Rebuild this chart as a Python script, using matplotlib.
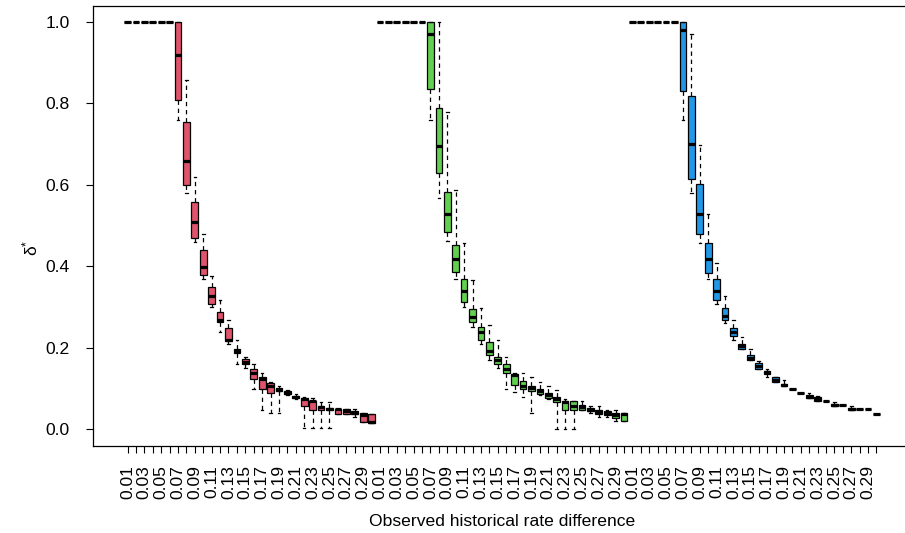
import matplotlib
matplotlib.use("Agg")
import matplotlib.pyplot as plt
import numpy as np

plt.rcParams['font.family'] = ['Liberation Sans', 'DejaVu Sans']

# observed historical rate difference, 0.01 .. 0.30, repeated for three groups
rate_diff = [f"{v / 100:.2f}" for v in range(1, 31)]
colors = ["#DF536B", "#61D04F", "#2297E6"]

# group 1 (red): lower whisker, q1, median, q3, upper whisker
red_lo = [1.0] * 6 + [.760, .579, .460, .369, .301, .238, .210, .160, .151, .099, .048, .039, .039, .084,
                      .075, .002, .002, .002, .002, .038, .038, .029, .018, .015]
red_q1 = [1.0] * 6 + [.809, .600, .469, .379, .308, .264, .216, .187, .159, .124, .099, .090, .093, .086,
                      .077, .058, .048, .046, .048, .038, .038, .038, .018, .015]
red_med = [1.0] * 6 + [.919, .659, .509, .399, .328, .267, .219, .191, .164, .139, .124, .105, .097, .089,
                       .080, .073, .069, .054, .050, .049, .045, .041, .036, .017]
red_q3 = [1.0] * 6 + [1.0, .754, .558, .439, .349, .288, .249, .198, .173, .148, .128, .114, .101, .093,
                      .082, .077, .070, .058, .053, .050, .049, .045, .039, .038]
red_hi = [1.0] * 6 + [1.0, .858, .619, .478, .377, .318, .267, .218, .178, .159, .137, .117, .107, .097,
                      .087, .080, .077, .068, .068, .050, .049, .049, .039, .038]

# group 2 (green)
green_lo = [1.0] * 6 + [.760, .568, .461, .369, .300, .250, .210, .169, .150, .099, .091, .080, .039, .083,
                        .075, .001, .001, .001, .046, .039, .029, .029, .021, .020]
green_q1 = [1.0] * 6 + [.834, .628, .484, .385, .313, .263, .218, .183, .159, .138, .109, .099, .095, .087,
                        .076, .068, .048, .048, .048, .044, .038, .035, .028, .020]
green_med = [1.0] * 6 + [.969, .694, .529, .418, .340, .275, .238, .193, .171, .148, .132, .105, .102, .093,
                         .083, .075, .068, .058, .054, .048, .043, .040, .035, .038]
green_q3 = [1.0] * 6 + [1.0, .789, .583, .453, .368, .294, .250, .214, .178, .159, .136, .118, .107, .099,
                        .089, .080, .070, .069, .060, .053, .048, .044, .040, .040]
green_hi = [1.0] * 6 + [1.0, 1.0, .778, .588, .458, .367, .297, .257, .218, .178, .137, .137, .128, .117,
                        .106, .097, .075, .070, .069, .058, .058, .048, .048, .040]

# group 3 (blue)
blue_lo = [1.0] * 6 + [.759, .579, .458, .368, .308, .260, .219, .196, .169, .148, .129, .116, .106, .099,
                       .088, .076, .069, .069, .056, .059, .047, .049, .049, .038]
blue_q1 = [1.0] * 6 + [.829, .613, .478, .384, .318, .269, .230, .196, .169, .149, .136, .116, .106, .099,
                       .088, .076, .069, .069, .056, .059, .047, .049, .049, .038]
blue_med = [1.0] * 6 + [.979, .699, .529, .419, .339, .279, .238, .204, .174, .155, .140, .122, .109, .099,
                        .088, .079, .075, .069, .059, .059, .049, .049, .049, .038]
blue_q3 = [1.0] * 6 + [1.0, .818, .603, .458, .368, .298, .248, .210, .181, .162, .144, .128, .111, .099,
                       .088, .083, .080, .069, .062, .059, .053, .049, .049, .038]
blue_hi = [1.0] * 6 + [1.0, .969, .698, .529, .407, .328, .267, .226, .197, .167, .148, .129, .120, .099,
                       .088, .088, .081, .069, .068, .059, .058, .049, .049, .038]

groups = [
    (red_lo, red_q1, red_med, red_q3, red_hi),
    (green_lo, green_q1, green_med, green_q3, green_hi),
    (blue_lo, blue_q1, blue_med, blue_q3, blue_hi),
]

stats = []
box_colors = []
for (lo, q1, med, q3, hi), col in zip(groups, colors):
    for i in range(len(rate_diff)):
        stats.append(dict(whislo=lo[i], q1=q1[i], med=med[i], q3=q3[i], whishi=hi[i], fliers=[]))
        box_colors.append(col)

positions = np.arange(1, len(stats) + 1)

fig = plt.figure(figsize=(9.05, 5.33), dpi=100)
ax = fig.add_axes([93 / 905, 87.5 / 533, 818 / 905, 440 / 533])

bp = ax.bxp(stats, positions=positions, widths=0.8, patch_artist=True, showfliers=False,
            boxprops=dict(edgecolor='black', linewidth=0.9),
            medianprops=dict(color='black', linewidth=2.3, solid_capstyle='butt'),
            whiskerprops=dict(color='black', linewidth=0.9, linestyle=(0, (3.5, 3))),
            capprops=dict(color='black', linewidth=0.9),
            capwidths=0.3)
for patch, col in zip(bp['boxes'], box_colors):
    patch.set_facecolor(col)

ax.set_xlim(-3.1, 94.1)
ax.set_ylim(-0.04, 1.04)

fs = 12.6
labels = [rate_diff[i % 30] if i % 2 == 0 else "" for i in range(len(stats))]
ax.set_xticks(positions)
ax.set_xticklabels(labels, rotation=90, fontsize=fs)
ax.set_yticks([0.0, 0.2, 0.4, 0.6, 0.8, 1.0])
ax.set_yticklabels(["0.0", "0.2", "0.4", "0.6", "0.8", "1.0"], fontsize=fs)
ax.tick_params(axis='x', length=5, width=0.8, pad=9)
ax.tick_params(axis='y', length=5, width=0.8, pad=12)

for s in ax.spines.values():
    s.set_linewidth(0.9)

ax.set_xlabel("Observed historical rate difference", fontsize=fs, va='center')
ax.xaxis.set_label_coords(0.5, (445.5 - 521) / 440)
ax.set_ylabel(r"$\mathregular{\delta^{*}}$", fontsize=fs, va='center')
ax.yaxis.set_label_coords((30 - 93) / 818, 0.45)

plt.savefig("out.png", dpi=100)
